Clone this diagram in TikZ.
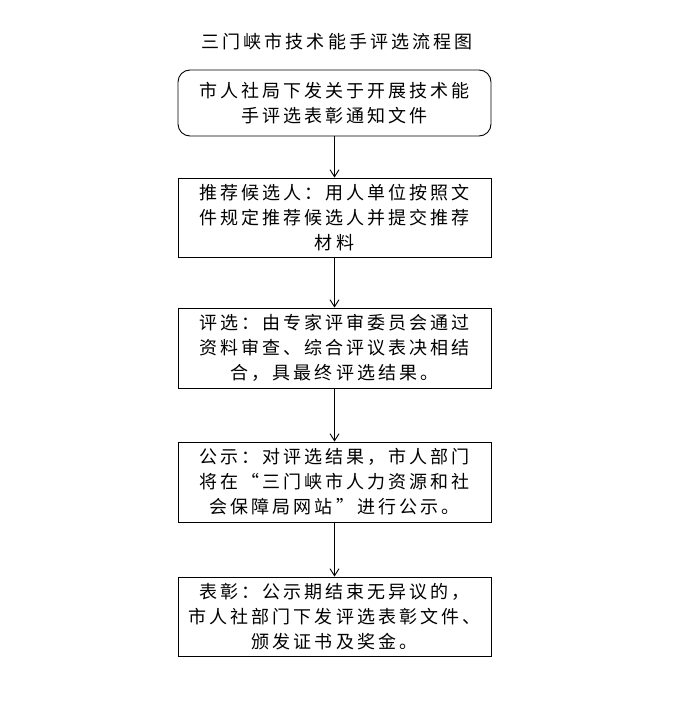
\documentclass[tikz,border=0pt]{standalone}
\usepackage{fontspec}
\setmainfont{Noto Sans CJK SC}[LetterSpace=17]
\usetikzlibrary{arrows.meta}

\begin{document}
\begin{tikzpicture}[x=1pt, y=-1pt, line width=0.9pt,
		every node/.style={font=\fontsize{18}{25}\selectfont, align=center, inner sep=0pt},
		stepbox/.style={draw, minimum width=313pt},
		flow/.style={-{Straight Barb[length=7pt, width=9pt]}}]
	\useasboundingbox (0,0) rectangle (673,711);
	% 标题
	\node (title) at (337,42) {三门峡市技术能手评选流程图};
	
	% 各步骤
	\node[stepbox, rounded corners=12pt, minimum height=66pt] (notice) at (334.5,103)
		{市人社局下发关于开展技术能\\手评选表彰通知文件};
	\node[stepbox, minimum height=79pt] (recommend) at (334.5,217.5)
		{推荐候选人：用人单位按照文\\件规定推荐候选人并提交推荐\\材料};
	\node[stepbox, minimum height=80pt] (review) at (334.5,348)
		{评选：由专家评审委员会通过\\资料审查、综合评议表决相结\\合，具最终评选结果。};
	\node[stepbox, minimum height=80pt] (publicity) at (334.5,482)
		{公示：对评选结果，市人部门\\将在“三门峡市人力资源和社\\会保障局网站”进行公示。};
	\node[stepbox, minimum height=79pt] (award) at (334.5,616.5)
		{表彰：公示期结束无异议的，\\市人社部门下发评选表彰文件、\\颁发证书及奖金。};
	
	% 连线
	\draw[flow] (notice) -- (recommend);
	\draw[flow] (recommend) -- (review);
	\draw[flow] (review) -- (publicity);
	\draw[flow] (publicity) -- (award);
\end{tikzpicture}
\end{document}
